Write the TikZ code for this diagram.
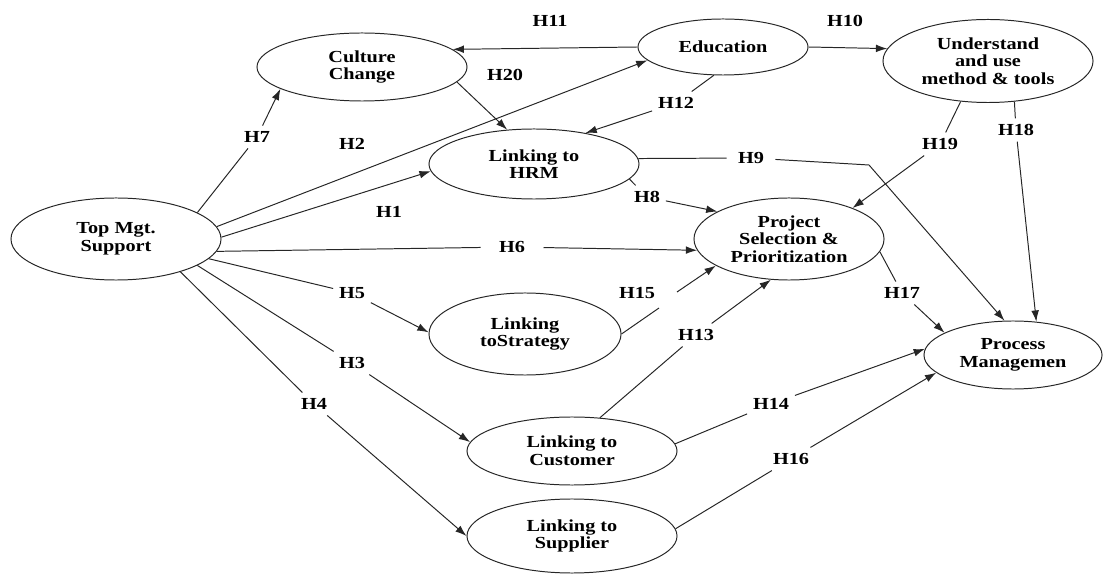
\documentclass[tikz,border=0pt]{standalone}
\usepackage{fontspec}
\setmainfont{Liberation Serif}[FakeStretch=1.2]
\usetikzlibrary{shapes.geometric,arrows.meta}

\tikzset{
  var/.style={ellipse, draw=black!85, line width=0.7pt, inner sep=0pt, align=center},
  hyp/.style={inner sep=4pt},
  link/.style={draw=black!85, line width=0.7pt, -{Latex[length=8pt,width=5.5pt]}},
}

\begin{document}
\begin{tikzpicture}[x=0.025cm,y=-0.025cm,font=\fontsize{12}{12.5}\selectfont\bfseries]
\useasboundingbox (0,0) rectangle (1104,576);

\node[var,minimum width=5.25cm,minimum height=2.05cm] (top) at (116,239) {Top Mgt.\\Support};
\node[var,minimum width=5.25cm,minimum height=1.7cm] (culture) at (362,67) {Culture\\Change};
\node[var,minimum width=4.25cm,minimum height=1.4cm] (edu) at (723,47) {Education};
\node[var,minimum width=5.25cm,minimum height=2.075cm] (und) at (988,61) {Understand\\and use\\method \& tools};
\node[var,minimum width=5.25cm,minimum height=1.75cm] (hrm) at (534,164) {Linking to\\HRM};
\node[var,minimum width=4.75cm,minimum height=2.05cm] (proj) at (789,239) {Project\\Selection \&\\Prioritization};
\node[var,minimum width=4.8cm,minimum height=2.05cm] (strat) at (525,334) {Linking\\toStrategy};
\node[var,minimum width=4.45cm,minimum height=1.7cm] (proc) at (1013,355) {Process\\Managemen};
\node[var,minimum width=5.25cm,minimum height=1.7cm] (cust) at (572,451) {Linking to\\Customer};
\node[var,minimum width=5.25cm,minimum height=1.85cm] (supp) at (572,536) {Linking to\\Supplier};

\node[hyp] (h7) at (257,137) {H7};
\node[hyp] (h2) at (352,144) {H2};
\node[hyp] (h1) at (389,212) {H1};
\node[hyp,inner xsep=13pt] (h6) at (512,247) {H6};
\node[hyp] (h5) at (352,293) {H5};
\node[hyp] (h3) at (352,363) {H3};
\node[hyp] (h4) at (314,404) {H4};
\node[hyp] (h11) at (550,21) {H11};
\node[hyp] (h10) at (845,21) {H10};
\node[hyp] (h20) at (505,75) {H20};
\node[hyp] (h12) at (676,103) {H12};
\node[hyp,inner xsep=8pt] (h9) at (751,158) {H9};
\node[hyp] (h8) at (647,197) {H8};
\node[hyp] (h19) at (940,144) {H19};
\node[hyp] (h18) at (1016,130) {H18};
\node[hyp] (h15) at (637,293) {H15};
\node[hyp] (h13) at (696,335) {H13};
\node[hyp] (h17) at (902,293) {H17};
\node[hyp] (h14) at (771,404) {H14};
\node[hyp] (h16) at (791,459) {H16};

\coordinate (b9) at (869,165);
\coordinate (g15a) at (659,308);
\coordinate (g15b) at (677,292);

\draw[link] (top.18.9) -- (h7) -- (culture.195.5);
\draw[link] (top.7.7) -- (edu.190);
\draw[link] (top.1) -- (hrm.184.4);
\draw[link] (top.-7.6) -- (h6) -- (proj.187.8);
\draw[link] (top.-12.5) -- (h5) -- (strat.179.4);
\draw[link] (top.-18) -- (h3) -- (cust.175.7);
\draw[link] (top.-27.3) -- (h4) -- (supp.180.5);
\draw[link] (edu.180) -- (culture.11.9);
\draw[link] (edu.0) -- (und.173);
\draw[link] (culture.-9.4) -- (hrm.128.9);
\draw[link] (edu.252) -- (h12) -- (hrm.31.3);
\draw[link] (hrm.3.9) -- (h9) -- (b9) -- (proc.104.4);
\draw[link] (hrm.-9.8) -- (h8) -- (proj.159.8);
\draw[link] (und.236.3) -- (h19) -- (proj.26.6);
\draw[link] (und.303.4) -- (h18) -- (proc.55.2);
\draw[link,-] (strat.-0.6) -- (g15a);
\draw[link] (g15b) -- (proj.200.9);
\draw[link] (cust.50.5) -- (h13) -- (proj.246.2);
\draw[link] (proj.-8.4) -- (h17) -- (proc.162.6);
\draw[link] (cust.4.4) -- (h14) -- (proc.176.9);
\draw[link] (supp.4.9) -- (h16) -- (proc.193.7);
\end{tikzpicture}
\end{document}
